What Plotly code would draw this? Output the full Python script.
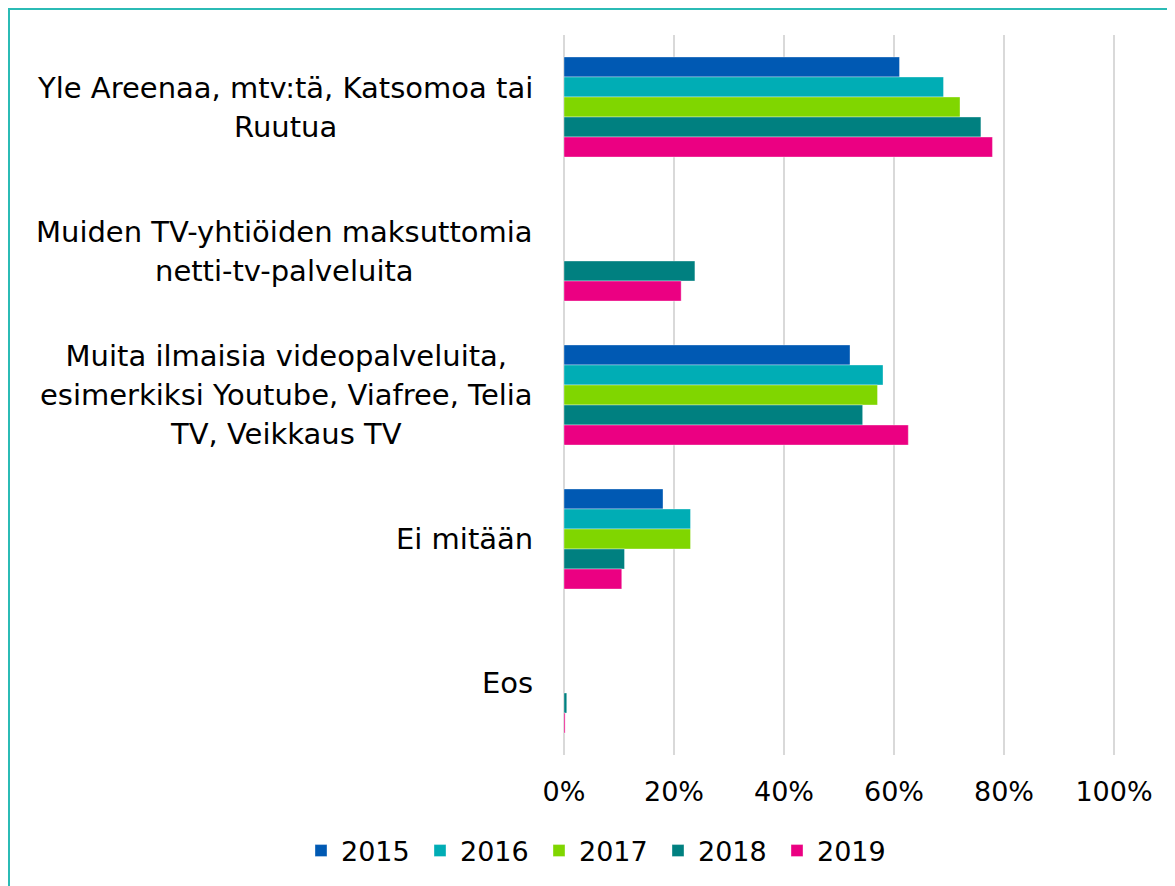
import plotly.graph_objects as go

categories = [
    "Yle Areenaa, mtv:tä, Katsomoa tai<br>Ruutua",
    "Muiden TV-yhtiöiden maksuttomia<br>netti-tv-palveluita",
    "Muita ilmaisia videopalveluita,<br>esimerkiksi Youtube, Viafree, Telia<br>TV, Veikkaus TV",
    "Ei mitään",
    "Eos",
]
cat_keys = ["Yle", "Muiden", "Muita", "Ei", "Eos"]

years = ["2015", "2016", "2017", "2018", "2019"]
v2015 = [0.61, None, 0.52, 0.18, None]
v2016 = [0.69, None, 0.58, 0.23, None]
v2017 = [0.72, None, 0.57, 0.23, None]
v2018 = [0.758, 0.238, 0.543, 0.11, 0.005]
v2019 = [0.779, 0.213, 0.626, 0.105, 0.002]
series = [v2015, v2016, v2017, v2018, v2019]
colors = ["#0059B3", "#00ADB5", "#80D600", "#008080", "#EB0082"]

xticks = [0, 0.2, 0.4, 0.6, 0.8, 1.0]
xticklabels = ["0%", "20%", "40%", "60%", "80%", "100%"]

FONT = "DejaVu Sans"
# page has an 8px body margin, so the figure is laid out 8px smaller
W, H = 1167, 878
D = 2 / 550  # small range padding so that edge gridlines are drawn
L, R, T, B = 554, 59, 27, 131

fig = go.Figure()
for yr, vals, col in zip(years, series, colors):
    fig.add_trace(go.Bar(
        y=cat_keys, x=vals, name=yr, orientation="h",
        marker=dict(color=col, line=dict(width=0.6, color="rgba(255,255,255,0.6)")),
    ))

annotations = []
for key, lab in zip(cat_keys, categories):
    annotations.append(dict(
        x=0, xref="paper", y=key, yref="y",
        xanchor="right", yanchor="middle", align="center",
        xshift=-27, showarrow=False,
        text=f'<span style="font-size:29px">{lab}</span>',
        font=dict(family=FONT, size=30, color="#000000"),
    ))

plot_w = W - L - R
plot_h = H - T - B
fig.update_layout(
    width=W, height=H,
    margin=dict(l=L, r=R, t=T, b=B, pad=0, autoexpand=False),
    paper_bgcolor="white", plot_bgcolor="white",
    barmode="group", bargap=0.305, bargroupgap=0,
    font=dict(family=FONT, size=27, color="#000000"),
    xaxis=dict(
        range=[-D, 1 + D], tickvals=xticks, ticktext=xticklabels,
        showgrid=True, gridcolor="#D9D9D9", gridwidth=1.5,
        zeroline=False, showline=False, ticks="",
        tickfont=dict(family=FONT, size=27, color="#000000"),
        ticklabelstandoff=18, fixedrange=True, automargin=False,
    ),
    yaxis=dict(
        autorange="reversed", showticklabels=False, showgrid=False,
        zeroline=False, showline=False, ticks="", automargin=False,
    ),
    legend=dict(
        orientation="h", x=(293 - L) / plot_w, xref="paper", xanchor="left",
        y=(H - B - 843) / plot_h, yref="paper", yanchor="middle",
        font=dict(family=FONT, size=27, color="#000000"),
        traceorder="normal", itemwidth=30,
        entrywidth=74, entrywidthmode="pixels",
    ),
    annotations=annotations,
    shapes=[dict(
        type="rect", xref="paper", yref="paper",
        x0=(1 - L) / plot_w, x1=(1190 - L) / plot_w,
        y0=(H - 900 - B) / plot_h, y1=(H - 1 - B) / plot_h,
        line=dict(color="#2BBBB5", width=2), fillcolor="rgba(0,0,0,0)",
        layer="below",
    )],
)

fig.write_html("out.html")
